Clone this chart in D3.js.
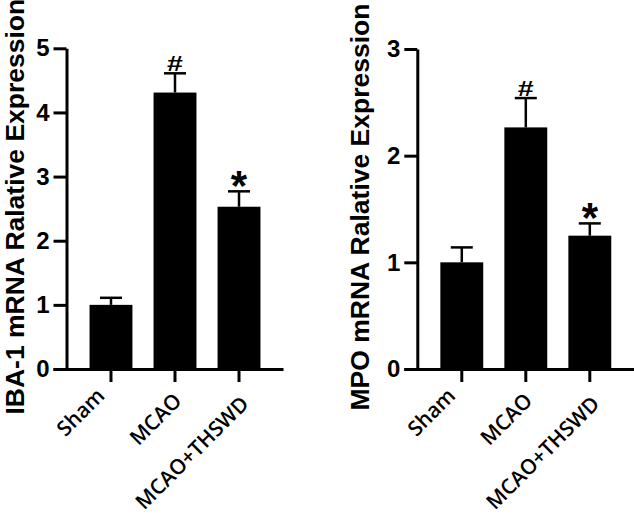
<!DOCTYPE html>
<html>
<head>
<meta charset="utf-8">
<script src="https://cdn.jsdelivr.net/npm/d3@7"></script>
<style>
  html, body { margin: 0; padding: 0; background: #fff; }
  svg { display: block; }
</style>
</head>
<body>
<svg id="chart" width="634" height="517"></svg>
<script>
// ---- data ----
const categories = ["Sham", "MCAO", "MCAO+THSWD"];
const ibaMeans = [1.00, 4.31, 2.53];
const ibaErrors = [0.11, 0.30, 0.24];
const ibaMarks = ["", "#", "*"];
const ibaTicks = [0, 1, 2, 3, 4, 5];
const mpoMeans = [1.00, 2.265, 1.25];
const mpoErrors = [0.14, 0.275, 0.115];
const mpoMarks = ["", "#", "*"];
const mpoTicks = [0, 1, 2, 3];
const ibaTitle = "IBA-1 mRNA Ralative Expression";
const mpoTitle = "MPO mRNA Ralative Expression";

// ---- layout ----
const svg = d3.select("#chart");
const AX_FONT = "'Liberation Sans', Arial, sans-serif";
const LABEL_FONT = "'Open Sans', 'Noto Sans', sans-serif";
const labelShift = [[-5, 28], [8, 33], [11, 36]];

function panel(opts) {
  const { x0, width, yTop, yBottom, yMax, means, errors, marks, ticks, title, titleX } = opts;
  const g = svg.append("g");
  const y = d3.scaleLinear().domain([0, yMax]).range([yBottom, yTop]);
  const x = d3.scaleBand().domain(categories).range([x0, x0 + width])
    .paddingInner(0.33).paddingOuter(0.36);

  // bars
  g.selectAll("rect.bar").data(categories).join("rect")
    .attr("class", "bar")
    .attr("x", d => x(d))
    .attr("width", x.bandwidth())
    .attr("y", (d, i) => y(means[i]))
    .attr("height", (d, i) => y(0) - y(means[i]))
    .attr("fill", "#000");

  // error bars
  const eg = g.selectAll("g.err").data(categories).join("g").attr("class", "err");
  eg.append("line")
    .attr("x1", d => x(d) + x.bandwidth() / 2)
    .attr("x2", d => x(d) + x.bandwidth() / 2)
    .attr("y1", (d, i) => y(means[i]))
    .attr("y2", (d, i) => y(means[i] + errors[i]))
    .attr("stroke", "#000").attr("stroke-width", 2.5);
  eg.append("line")
    .attr("x1", d => x(d) + x.bandwidth() / 2 - 11)
    .attr("x2", d => x(d) + x.bandwidth() / 2 + 11)
    .attr("y1", (d, i) => y(means[i] + errors[i]))
    .attr("y2", (d, i) => y(means[i] + errors[i]))
    .attr("stroke", "#000").attr("stroke-width", 2.5);

  // significance marks
  g.selectAll("text.mark").data(categories).join("text")
    .attr("class", "mark")
    .attr("transform", (d, i) => {
      const cx = x(d) + x.bandwidth() / 2;
      const top = y(means[i] + errors[i]);
      return marks[i] === "#"
        ? `translate(${cx},${top - 2.5}) scale(1.3,1)`
        : `translate(${cx},${top + 9})`;
    })
    .attr("text-anchor", "middle")
    .attr("font-family", AX_FONT)
    .attr("font-weight", "bold")
    .attr("font-size", (d, i) => marks[i] === "#" ? 22 : 42)
    .attr("fill", "#000")
    .text((d, i) => marks[i]);

  // y axis
  const ya = g.append("g").attr("transform", `translate(${x0},0)`)
    .call(d3.axisLeft(y).tickValues(ticks).tickFormat(d3.format("d"))
      .tickSize(13).tickSizeOuter(0).tickPadding(4));
  ya.selectAll("path, line").attr("stroke", "#000").attr("stroke-width", 3);
  ya.selectAll("text").attr("font-family", AX_FONT).attr("font-weight", "bold")
    .attr("font-size", 24).attr("fill", "#000");

  // x axis
  const xa = g.append("g").attr("transform", `translate(0,${yBottom})`)
    .call(d3.axisBottom(x).tickSize(13).tickSizeOuter(0));
  xa.select("path.domain").attr("d", `M${x0 - 13},0.5H${x0 + width}`);
  xa.selectAll("path, line").attr("stroke", "#000").attr("stroke-width", 3);
  xa.selectAll(".tick text")
    .attr("y", null).attr("dy", null)
    .attr("transform", (d, i) => `translate(${labelShift[i][0]},${labelShift[i][1]}) rotate(-45)`)
    .attr("text-anchor", "end")
    .attr("font-family", LABEL_FONT)
    .attr("font-weight", 600)
    .attr("font-size", 21)
    .attr("fill", "#000");

  // y title
  g.append("text")
    .attr("transform", `translate(${titleX},${(yTop + yBottom) / 2 - 2}) rotate(-90)`)
    .attr("text-anchor", "middle")
    .attr("font-family", AX_FONT)
    .attr("font-weight", "bold")
    .attr("font-size", 26.5)
    .attr("fill", "#000")
    .text(title);
}

panel({ x0: 66.5, width: 217, yTop: 48.3, yBottom: 369, yMax: 5,
  means: ibaMeans, errors: ibaErrors, marks: ibaMarks, ticks: ibaTicks,
  title: ibaTitle, titleX: 24 });
panel({ x0: 417.3, width: 217, yTop: 49, yBottom: 369, yMax: 3,
  means: mpoMeans, errors: mpoErrors, marks: mpoMarks, ticks: mpoTicks,
  title: mpoTitle, titleX: 369 });
</script>
</body>
</html>
